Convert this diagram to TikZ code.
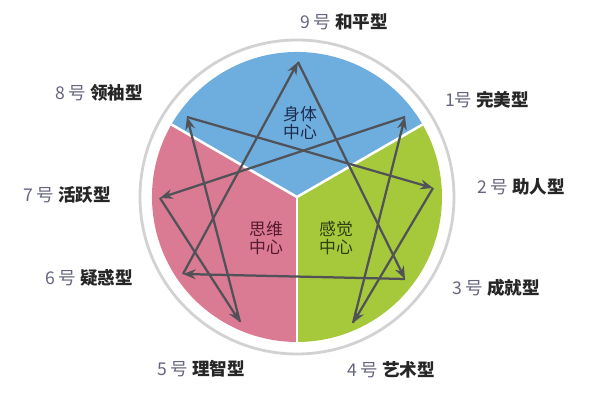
\documentclass[tikz,border=0pt]{standalone}
\usepackage{fontspec}
\newfontfamily\cjk{Noto Sans CJK SC}
\usetikzlibrary{arrows.meta}
\definecolor{bodyblue}{HTML}{6EAEDF}
\definecolor{mindpink}{HTML}{DB7A93}
\definecolor{feelgreen}{HTML}{A6C93C}
\definecolor{ringgrey}{HTML}{D2D2D2}
\definecolor{linkgrey}{HTML}{505258}
\definecolor{numgrey}{HTML}{65657F}
\definecolor{typeblack}{HTML}{262626}
\definecolor{bodytext}{HTML}{1C2C50}
\definecolor{mindtext}{HTML}{561A30}
\definecolor{feeltext}{HTML}{2C3D10}

\begin{document}
\begin{tikzpicture}
        \tikzstyle{every node}=[inner sep=0pt]
        \tikzstyle{type}=[font=\cjk\fontsize{12.5}{14}\selectfont, text=typeblack]
        \tikzstyle{hub}=[align=center, font=\cjk\fontsize{12}{12.5}\selectfont]
        \tikzstyle{link}=[-{Stealth[length=9pt,width=7pt]}, line width=1.6pt, draw=linkgrey]

        \useasboundingbox (0,0) rectangle (15,10);

        \coordinate (c) at (7.425,5.075);
        \draw[ringgrey, line width=2pt] (c) circle (3.925);
        \fill[bodyblue]  (c) -- ++(30:3.625)  arc (30:150:3.625)  -- cycle;
        \fill[mindpink]  (c) -- ++(150:3.625) arc (150:270:3.625) -- cycle;
        \fill[feelgreen] (c) -- ++(270:3.625) arc (270:390:3.625) -- cycle;
        \foreach \a in {30,150,270}
            \draw[white, line width=1.8pt] (c) -- ++(\a:3.625);

        \node[hub, text=bodytext] (body) at (7.5,6.925) {身体\\中心};
        \node[hub, text=mindtext] (mind) at (6.65,4.05) {思维\\中心};
        \node[hub, text=feeltext] (feel) at (8.4,4.05)  {感觉\\中心};

        \coordinate (p9) at (7.45,8.45);
        \coordinate (p1) at (10.125,7.075);
        \coordinate (p2) at (10.825,5.3);
        \coordinate (p3) at (10.125,3.025);
        \coordinate (p4) at (8.825,1.925);
        \coordinate (p5) at (6.0,1.95);
        \coordinate (p6) at (4.575,3.15);
        \coordinate (p7) at (4.0,5.05);
        \coordinate (p8) at (4.675,7.075);

        \foreach \a/\b in {9/3, 3/6, 6/9, 1/7, 7/5, 5/8, 8/2, 2/4, 4/1}
            \draw[link] (p\a) -- (p\b);

        \node[type] (t9) at (8.6,9.45)    {{\color{numgrey}9 号} {\bfseries 和平型}};
        \node[type] (t1) at (12.175,7.5)  {{\color{numgrey}1号} {\bfseries 完美型}};
        \node[type] (t2) at (13.025,5.325){{\color{numgrey}2 号} {\bfseries 助人型}};
        \node[type] (t3) at (12.4,2.8)    {{\color{numgrey}3 号} {\bfseries 成就型}};
        \node[type] (t4) at (9.775,0.75)  {{\color{numgrey}4 号} {\bfseries 艺术型}};
        \node[type] (t5) at (5.025,0.775) {{\color{numgrey}5 号} {\bfseries 理智型}};
        \node[type] (t6) at (2.225,3.05)  {{\color{numgrey}6 号} {\bfseries 疑惑型}};
        \node[type] (t7) at (1.675,5.125) {{\color{numgrey}7 号} {\bfseries 活跃型}};
        \node[type] (t8) at (2.475,7.675) {{\color{numgrey}8 号} {\bfseries 领袖型}};
    \end{tikzpicture}
\end{document}
